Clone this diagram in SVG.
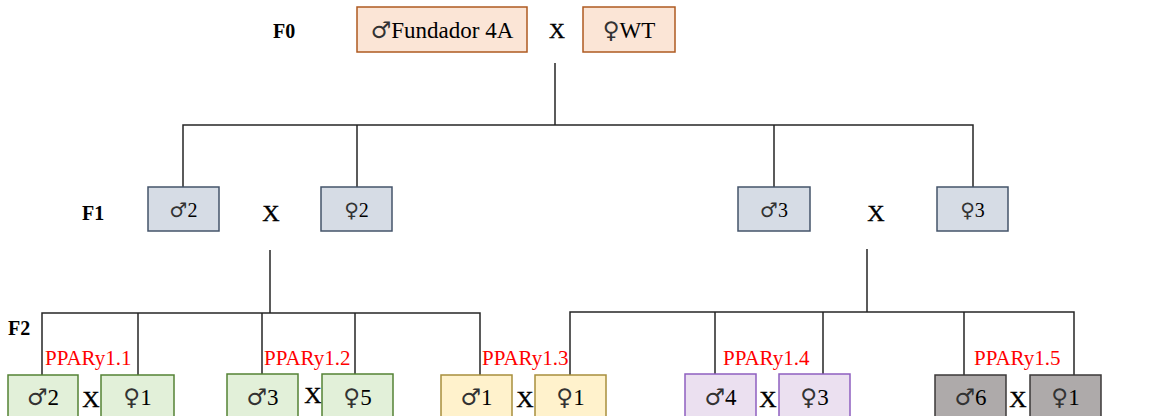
<svg xmlns="http://www.w3.org/2000/svg" width="1161" height="416" viewBox="0 0 1161 416">
<style>
text{font-family:"Liberation Serif","DejaVu Serif",serif;font-size:20px;fill:#000}
.s{font-family:"DejaVu Sans",sans-serif;font-weight:normal;fill:#333}
.lbl{font-weight:bold}
.t{text-anchor:middle}
.x{stroke:#000;stroke-width:0.4}
.b0{font-size:23px}
.b1{font-size:20px}
.b2{font-size:23px}
.x0{font-size:22px}
.x1{font-size:24px}
.x2{font-size:24px}
.red{fill:#ff0000;font-size:21px}
.box{stroke-width:1.5}
.f0{fill:#fbe5d6;stroke:#ae5a21}
.f1{fill:#d6dce5;stroke:#44546a}
.gr{fill:#e2f0d9;stroke:#548235}
.ye{fill:#fff2cc;stroke:#a88f3c}
.pu{fill:#ebe0f0;stroke:#8e5fc0}
.gy{fill:#aeaaaa;stroke:#3b3838}
.ln{stroke:#262626;stroke-width:1.5;fill:none}
</style>
<rect width="1161" height="416" fill="#fff"/>
<g id="connectors">
<path class="ln" d="M555 63V125M183 187V125H973V187M357 125V187M774 125V187"/>
<path class="ln" d="M270 250V313M42 375V313H480V375M138 313V375M262 313V375M355 313V375"/>
<path class="ln" d="M867 249V312M570 375V312H1074V375M715 312V375M823 312V375M964 312V375"/>
</g>
<g id="gen-labels">
<text class="lbl" x="273" y="38">F0</text>
<text class="lbl" x="82" y="220">F1</text>
<text class="lbl" x="8" y="335">F2</text>
</g>
<g id="f0-male"><rect class="box f0" x="357" y="7" width="170" height="45"/><text class="t b0" x="442" y="38"><tspan class="s">♂</tspan>Fundador 4A</text></g>
<text class="t x x0" x="557" y="38">X</text>
<g id="f0-female"><rect class="box f0" x="583" y="7" width="92" height="45"/><text class="t b0" x="629" y="38"><tspan class="s">♀</tspan>WT</text></g>
<g id="f1-m2"><rect class="box f1" x="148" y="187" width="71" height="44"/><text class="t b1" x="183.5" y="217"><tspan class="s">♂</tspan>2</text></g>
<text class="t x x1" x="271" y="221">X</text>
<g id="f1-f2"><rect class="box f1" x="321" y="187" width="71" height="44"/><text class="t b1" x="356.5" y="217"><tspan class="s">♀</tspan>2</text></g>
<g id="f1-m3"><rect class="box f1" x="738" y="187" width="72" height="44"/><text class="t b1" x="774" y="217"><tspan class="s">♂</tspan>3</text></g>
<text class="t x x1" x="876" y="221">X</text>
<g id="f1-f3"><rect class="box f1" x="937" y="187" width="71" height="44"/><text class="t b1" x="972.5" y="217"><tspan class="s">♀</tspan>3</text></g>
<g id="ppar-labels">
<text class="red" x="45" y="365">PPARy1.1</text>
<text class="red" x="264" y="365">PPARy1.2</text>
<text class="red" x="482" y="365">PPARy1.3</text>
<text class="red" x="723" y="365">PPARy1.4</text>
<text class="red" x="974" y="365">PPARy1.5</text>
</g>
<g id="f2-1m"><rect class="box gr" x="8" y="375" width="70" height="46"/><text class="t b2" x="43" y="405"><tspan class="s">♂</tspan>2</text></g>
<text class="t x x2" x="91" y="407">X</text>
<g id="f2-1f"><rect class="box gr" x="101" y="375" width="73" height="46"/><text class="t b2" x="137.5" y="405"><tspan class="s">♀</tspan>1</text></g>
<g id="f2-2m"><rect class="box gr" x="227" y="374" width="71" height="47"/><text class="t b2" x="262.5" y="405"><tspan class="s">♂</tspan>3</text></g>
<text class="t x x2" x="313" y="403">X</text>
<g id="f2-2f"><rect class="box gr" x="322" y="374" width="71" height="47"/><text class="t b2" x="357.5" y="405"><tspan class="s">♀</tspan>5</text></g>
<g id="f2-3m"><rect class="box ye" x="441" y="375" width="71" height="46"/><text class="t b2" x="476.5" y="405"><tspan class="s">♂</tspan>1</text></g>
<text class="t x x2" x="525" y="407">X</text>
<g id="f2-3f"><rect class="box ye" x="535" y="375" width="71" height="46"/><text class="t b2" x="570.5" y="405"><tspan class="s">♀</tspan>1</text></g>
<g id="f2-4m"><rect class="box pu" x="685" y="374" width="71" height="47"/><text class="t b2" x="720.5" y="405"><tspan class="s">♂</tspan>4</text></g>
<text class="t x x2" x="768" y="407">X</text>
<g id="f2-4f"><rect class="box pu" x="779" y="374" width="71" height="47"/><text class="t b2" x="814.5" y="405"><tspan class="s">♀</tspan>3</text></g>
<g id="f2-5m"><rect class="box gy" x="935" y="375" width="71" height="46"/><text class="t b2" x="970.5" y="405"><tspan class="s">♂</tspan>6</text></g>
<text class="t x x2" x="1018" y="407">X</text>
<g id="f2-5f"><rect class="box gy" x="1030" y="375" width="71" height="46"/><text class="t b2" x="1065.5" y="405"><tspan class="s">♀</tspan>1</text></g>
</svg>
